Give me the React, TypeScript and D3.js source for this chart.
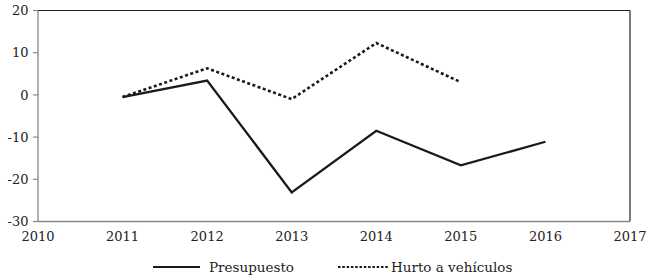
import React from "react";
import * as d3 from "d3";

const years = [2011, 2012, 2013, 2014, 2015, 2016];
const presupuesto = [-0.5, 3.4, -23.1, -8.5, -16.7, -11.1];
const hurto = [-0.5, 6.3, -1.0, 12.3, 3.0];
const xTicks = [2010, 2011, 2012, 2013, 2014, 2015, 2016, 2017];
const yTicks = [20, 10, 0, -10, -20, -30];
const seriesNames = ["Presupuesto", "Hurto a vehículos"];

const W = 650;
const H = 280;
const left = 38;
const right = 630;
const top = 10.5;
const bottom = 221.5;
const textStyle: React.CSSProperties = { fontFamily: "'DejaVu Serif'" };

export default function App() {
  const x = d3.scaleLinear().domain([2010, 2017]).range([left, right]);
  const y = d3.scaleLinear().domain([-30, 20]).range([bottom, top]);
  const line = d3
    .line<[number, number]>()
    .x((d) => x(d[0]))
    .y((d) => y(d[1]));
  const pData = years.map((yr, i) => [yr, presupuesto[i]] as [number, number]);
  const hData = hurto.map((v, i) => [years[i], v] as [number, number]);

  return (
    <svg
      width={W}
      height={H}
      style={{ position: "absolute", left: 0, top: 0, background: "#fff" }}
    >
      <line x1={left} x2={right} y1={top} y2={top} stroke="#222" strokeWidth={1.2} />
      <line x1={right} x2={right} y1={top} y2={bottom} stroke="#222" strokeWidth={1.2} />
      <line x1={left} x2={left} y1={top} y2={bottom} stroke="#888" strokeWidth={1.3} />
      <line x1={left} x2={right} y1={bottom} y2={bottom} stroke="#888" strokeWidth={1.3} />
      {yTicks.map((t) => (
        <g key={t}>
          <line x1={left - 5} x2={left} y1={y(t)} y2={y(t)} stroke="#888" strokeWidth={1.2} />
          <text
            x={left - 9.5}
            y={y(t)}
            dy="0.36em"
            textAnchor="end"
            fontSize={13}
            fill="#222"
            style={textStyle}
          >
            {t}
          </text>
        </g>
      ))}
      {xTicks.map((t) => (
        <text key={t} x={x(t)} y={240.5} textAnchor="middle" fontSize={13} fill="#222" style={textStyle}>
          {t}
        </text>
      ))}
      <path d={line(pData) || ""} fill="none" stroke="#1a1a1a" strokeWidth={2.3} strokeLinejoin="miter" />
      <path
        d={line(hData) || ""}
        fill="none"
        stroke="#1a1a1a"
        strokeWidth={2.6}
        strokeDasharray="3,2.5"
      />
      <line x1={153} x2={200} y1={267} y2={267} stroke="#1a1a1a" strokeWidth={2} />
      <text x={209} y={272} fontSize={13.5} fill="#222" style={textStyle}>
        {seriesNames[0]}
      </text>
      <line
        x1={338}
        x2={388}
        y1={267}
        y2={267}
        stroke="#1a1a1a"
        strokeWidth={2}
        strokeDasharray="2.5,1.8"
      />
      <text x={391} y={272} fontSize={13.5} fill="#222" style={textStyle}>
        {seriesNames[1]}
      </text>
    </svg>
  );
}
